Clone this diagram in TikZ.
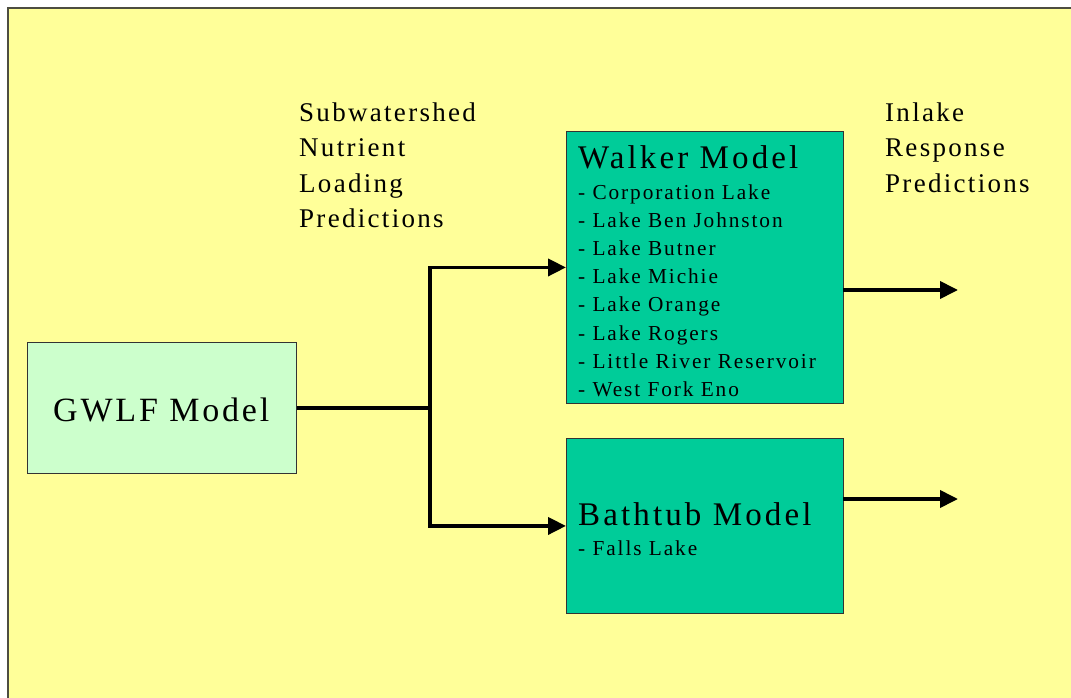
\documentclass[tikz,border=0pt]{standalone}
\usepackage{fontspec}
\setmainfont{Liberation Serif}
\usetikzlibrary{arrows.meta}
\definecolor{bgyellow}{HTML}{FFFF99}
\definecolor{bgframe}{HTML}{4D4D40}
\definecolor{lightgreen}{HTML}{CCFFCC}
\definecolor{teal}{HTML}{00CC99}
\tikzset{
  box/.style={draw=black!80, line width=0.9pt, inner sep=0pt, anchor=north west},
  conn/.style={line width=3.8pt, miter limit=10},
  tip/.style={-{Triangle[length=18pt,width=17pt]}},
  title/.style={anchor=base west, inner sep=0pt, font=\fontsize{33}{36}\selectfont\addfontfeature{LetterSpace=9.5}},
  gtitle/.style={anchor=base west, inner sep=0pt, font=\fontsize{34}{36}\selectfont\addfontfeature{LetterSpace=8.3}},
  item/.style={anchor=base west, inner sep=0pt, font=\fontsize{21.3}{24}\selectfont\addfontfeature{LetterSpace=9}},
  label/.style={anchor=base west, inner sep=0pt, font=\fontsize{27}{30}\selectfont\addfontfeature{LetterSpace=8.5}},
}
\begin{document}
\begin{tikzpicture}[x=1pt,y=-1pt]
\useasboundingbox (0,0) rectangle (1071,698);
\fill[white] (0,0) rectangle (1071,698);
\fill[bgyellow] (8,8) rectangle (1075,702);
\draw[bgframe, line width=2pt] (8,702) -- (8,8) -- (1075,8);

\node[box, fill=lightgreen, minimum width=269pt, minimum height=131pt] (gwlf) at (27,342) {};
\node[box, fill=teal, minimum width=277pt, minimum height=272pt] (walker) at (566,131) {};
\node[box, fill=teal, minimum width=277pt, minimum height=175pt] (bathtub) at (566,438) {};

\node[gtitle] (gwlft) at (53,421) {GWLF Model};
\node[title] (walkert) at (578,168) {Walker Model};
\node[title] (batht) at (578,525) {Bathtub Model};

\node[item] (w1) at (578,199) {- Corporation Lake};
\node[item] (w2) at (578,227.2) {- Lake Ben Johnston};
\node[item] (w3) at (578,255.4) {- Lake Butner};
\node[item] (w4) at (578,283.6) {- Lake Michie};
\node[item] (w5) at (578,311.8) {- Lake Orange};
\node[item] (w6) at (578,340) {- Lake Rogers};
\node[item] (w7) at (578,368.2) {- Little River Reservoir};
\node[item] (w8) at (578,396.4) {- West Fork Eno};
\node[item] (b1) at (578,555) {- Falls Lake};

\node[label] (in1) at (299,122) {Subwatershed};
\node[label] (in2) at (299,157) {Nutrient};
\node[label] (in3) at (299,192) {Loading};
\node[label] (in4) at (299,227) {Predictions};
\node[label] (out1) at (885,122) {Inlake};
\node[label] (out2) at (885,157) {Response};
\node[label] (out3) at (885,192) {Predictions};

\coordinate (jm) at (430,408);
\coordinate (wo) at (843,290);
\coordinate (bo) at (843,499);
\coordinate (we) at (958,290);
\coordinate (be) at (958,499);

\draw[conn] (gwlf.east) -- (jm);
\draw[conn, tip] (jm) |- (walker.west);
\draw[conn, tip] (jm) |- (bathtub.west);
\draw[conn, tip] (wo) -- (we);
\draw[conn, tip] (bo) -- (be);
\end{tikzpicture}
\end{document}
